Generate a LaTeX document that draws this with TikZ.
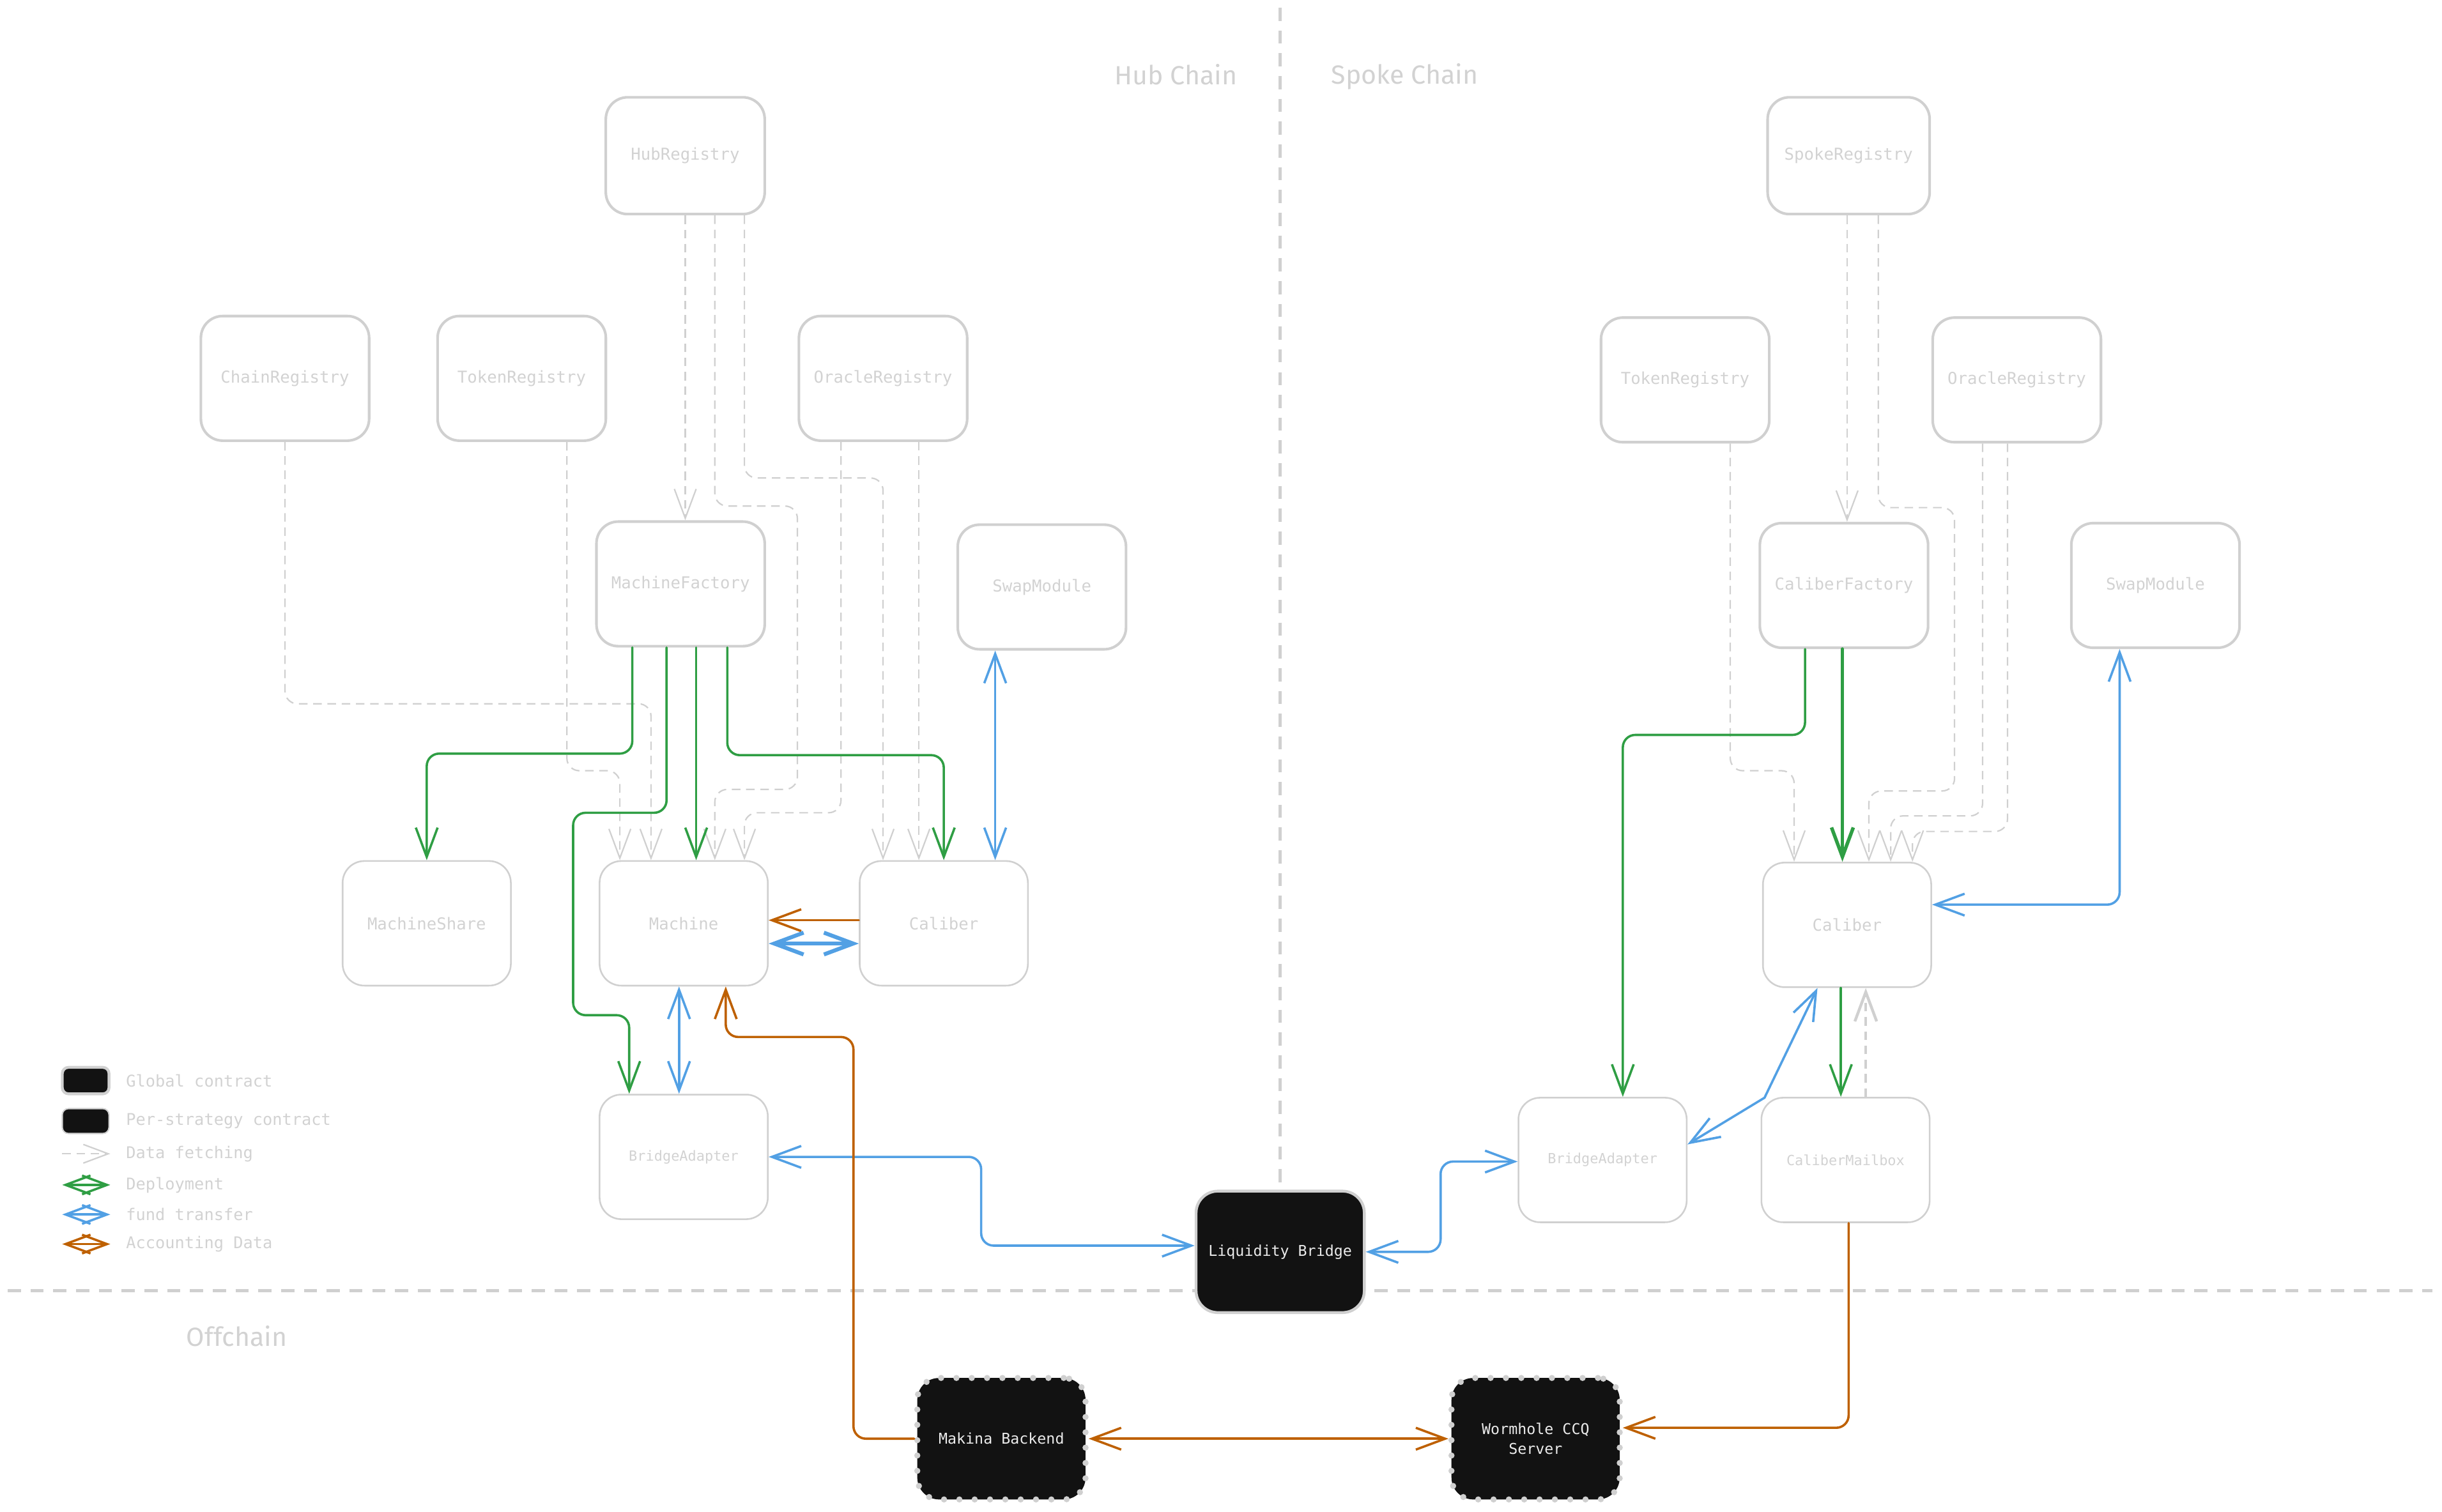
\documentclass[tikz,border=0pt]{standalone}
\usepackage{fontspec}
\setmonofont{DejaVu Sans Mono}
\newfontfamily\handfont{Fira Sans}
\usetikzlibrary{arrows.meta}
\definecolor{boxgray}{RGB}{208,208,208}
\definecolor{txtgray}{RGB}{210,210,210}
\definecolor{deploy}{RGB}{47,158,68}
\definecolor{fund}{RGB}{82,160,228}
\definecolor{acct}{RGB}{190,96,0}
\definecolor{ink}{RGB}{18,18,18}
\tikzset{
  contract/.style={draw=boxgray,line width=0.75pt,rounded corners=0.35cm,minimum width=2.7cm,minimum height=2cm,
    text=txtgray,font=\ttfamily\fontsize{7.5}{9}\selectfont},
  registry/.style={contract,line width=1.2pt},
  smalltext/.style={font=\ttfamily\fontsize{6.4}{8}\selectfont},
  globalbox/.style={contract,fill=ink,text=white!92!black,line width=1.3pt,align=center,
    font=\ttfamily\fontsize{6.8}{9}\selectfont},
  strategybox/.style={globalbox,line width=2.8pt,dash pattern=on 0pt off 7pt,line cap=round},
  fetch/.style={draw=boxgray,line width=0.65pt,dash pattern=on 3.9pt off 2.6pt,rounded corners=0.2cm,->},
  deployment/.style={draw=deploy,line width=1.05pt,line cap=round,rounded corners=0.2cm,->},
  transfer/.style={draw=fund,line width=1.05pt,line cap=round,rounded corners=0.2cm,<->},
  accounting/.style={draw=acct,line width=1.05pt,line cap=round,rounded corners=0.2cm,->},
  divider/.style={draw=boxgray,line width=1.35pt,dash pattern=on 6pt off 4.4pt},
  chainlabel/.style={text=txtgray,font=\handfont\fontsize{12}{14}\selectfont},
  legendtext/.style={anchor=west,text=txtgray,font=\ttfamily\fontsize{7.4}{9}\selectfont},
  legendtips/.style={>={Straight Barb[length=0.4cm,width=0.3cm]}}
}
\begin{document}
\begin{tikzpicture}[x=0.025cm,y=-0.025cm,>={Straight Barb[length=0.47cm,width=0.35cm]}]
\useasboundingbox (0,0) rectangle (1568,971);
\draw[divider] (822,5) -- (822,770);
\draw[divider] (5,829) -- (1562,829);

\node[chainlabel] (hubtitle) at (755,48) {Hub Chain};
\node[chainlabel] (spoketitle) at (902,49) {Spoke Chain};
\node[chainlabel] (offtitle) at (152,858) {Offchain};

\node[registry,minimum width=2.55cm,minimum height=1.875cm] (hubreg) at (440,100) {HubRegistry};
\node[registry] (chainreg) at (183,243) {ChainRegistry};
\node[registry] (tokregL) at (335,243) {TokenRegistry};
\node[registry] (oracL) at (567,243) {OracleRegistry};
\node[registry] (mfac) at (437,375) {MachineFactory};
\node[registry] (swapL) at (669,377) {SwapModule};
\node[contract] (mshare) at (274,593) {MachineShare};
\node[contract] (mach) at (439,593) {Machine};
\node[contract] (calL) at (606,593) {Caliber};
\node[contract,smalltext] (bridgeL) at (439,743) {BridgeAdapter};

\node[registry,minimum width=2.6cm,minimum height=1.875cm] (spokereg) at (1187,100) {SpokeRegistry};
\node[registry] (tokregR) at (1082,244) {TokenRegistry};
\node[registry] (oracR) at (1295,244) {OracleRegistry};
\node[registry] (cfac) at (1184,376) {CaliberFactory};
\node[registry] (swapR) at (1384,376) {SwapModule};
\node[contract] (calR) at (1186,594) {Caliber};
\node[contract,smalltext] (bridgeR) at (1029,745) {BridgeAdapter};
\node[contract,smalltext] (mailbox) at (1185,745) {CaliberMailbox};

\node[globalbox,minimum height=1.95cm] (lbridge) at (822,804) {Liquidity Bridge};
\node[strategybox,minimum height=1.95cm] (makina) at (643,924) {Makina Backend};
\node[strategybox,minimum height=1.95cm] (wormhole) at (986,924) {Wormhole CCQ\\Server};

\draw[fetch] (hubreg.south) -- (hubreg.south |- mfac.north);
\draw[fetch] (459,0 |- hubreg.south) |- (512,325) |- (459,507) -- (459,0 |- mach.north);
\draw[fetch] (478,0 |- hubreg.south) |- (567,307) -- (567,0 |- calL.north);
\draw[fetch] (chainreg.south) |- (418,452) -- (418,0 |- mach.north);
\draw[fetch] (364,0 |- tokregL.south) |- (398,495) -- (398,0 |- mach.north);
\draw[fetch] (540,0 |- oracL.south) |- (478,522) -- (478,0 |- mach.north);
\draw[fetch] (590,0 |- oracL.south) -- (590,0 |- calL.north);

\draw[deployment] (406,0 |- mfac.south) |- (274,484) -- (mshare.north);
\draw[deployment] (428,0 |- mfac.south) |- (368,522) |- (404,652) -- (404,0 |- bridgeL.north);
\draw[deployment] (447,0 |- mfac.south) -- (447,0 |- mach.north);
\draw[deployment] (467,0 |- mfac.south) |- (606,485) -- (calL.north);

\draw[transfer] (639,0 |- swapL.south) -- (639,0 |- calL.north);
\draw[accounting] (calL.west |- 0,591) -- (mach.east |- 0,591);
\draw[transfer,line width=1.8pt] (mach.east |- 0,606) -- (calL.west |- 0,606);
\draw[transfer] (436,0 |- mach.south) -- (436,0 |- bridgeL.north);
\draw[transfer] (bridgeL.east) -| (630,800) -- (lbridge.west |- 0,800);
\draw[accounting] (makina.west) -| (548,666) -| (466,0 |- mach.south);
\draw[accounting,<->] (makina.east) -- (wormhole.west);

\draw[fetch] (1186,0 |- spokereg.south) -- (1186,0 |- cfac.north);
\draw[fetch] (1206,0 |- spokereg.south) |- (1255,326) |- (1200,508) -- (1200,0 |- calR.north);
\draw[fetch] (1111,0 |- tokregR.south) |- (1152,495) -- (1152,0 |- calR.north);
\draw[fetch] (1273,0 |- oracR.south) |- (1214,524) -- (1214,0 |- calR.north);
\draw[fetch] (1289,0 |- oracR.south) |- (1228,534) -- (1228,0 |- calR.north);

\draw[deployment] (1159,0 |- cfac.south) |- (1042,472) -- (1042,0 |- bridgeR.north);
\draw[deployment,line width=1.6pt] (1183,0 |- cfac.south) -- (1183,0 |- calR.north);
\draw[deployment] (1182,0 |- calR.south) -- (1182,0 |- mailbox.north);
\draw[fetch,line width=1.3pt] (1198,0 |- mailbox.north) -- (1198,0 |- calR.south);

\draw[transfer] (1361,0 |- swapR.south) |- (calR.east |- 0,581);
\draw[transfer,rounded corners=0pt] (1167,0 |- calR.south) -- (1133,705) -- (bridgeR.east |- 0,735);
\draw[transfer] (lbridge.east) -| (925,775) |- (bridgeR.west |- 0,746);
\draw[accounting] (1187,0 |- mailbox.south) |- (wormhole.east |- 0,917);

\node[globalbox,minimum width=0.75cm,minimum height=0.425cm,rounded corners=0.1cm] (lglobal) at (55,694) {};
\node[globalbox,line width=0.6pt,minimum width=0.75cm,minimum height=0.4cm,rounded corners=0.1cm] (lstrat) at (55,720) {};
\node[legendtext] (tglobal) at (76,694) {Global contract};
\node[legendtext] (tstrat) at (76,720) {Per-strategy contract};
\node[legendtext] (tfetch) at (76,741) {Data fetching};
\node[legendtext] (tdeploy) at (76,761) {Deployment};
\node[legendtext] (tfund) at (76,780) {fund transfer};
\node[legendtext] (tacct) at (76,799) {Accounting Data};
\draw[fetch,legendtips] ([xshift=-0.9cm]tfetch.west) -- ([xshift=-0.13cm]tfetch.west);
\draw[deployment,legendtips,<->] ([xshift=-0.9cm]tdeploy.west) -- ([xshift=-0.13cm]tdeploy.west);
\draw[transfer,legendtips] ([xshift=-0.9cm]tfund.west) -- ([xshift=-0.13cm]tfund.west);
\draw[accounting,legendtips,<->] ([xshift=-0.9cm]tacct.west) -- ([xshift=-0.13cm]tacct.west);
\end{tikzpicture}
\end{document}
